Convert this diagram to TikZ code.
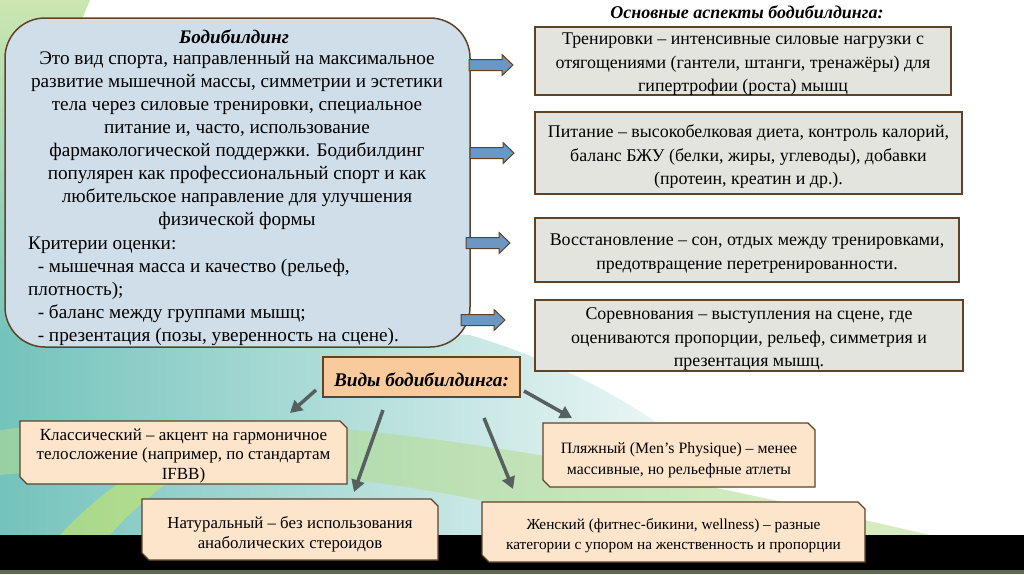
\documentclass[tikz,border=0pt]{standalone}
\usepackage{fontspec}
\setmainfont{Liberation Serif}
\usepackage{tikz}
\usetikzlibrary{positioning,arrows.meta}

\definecolor{mainblue}{HTML}{D0DEE9}
\definecolor{boxbrown}{HTML}{5E4327}
\definecolor{aspgray}{HTML}{E4E4DE}
\definecolor{typeorange}{HTML}{F9CB9C}
\definecolor{typepeach}{HTML}{FDE5CC}
\definecolor{arrowblue}{HTML}{6A97C3}
\definecolor{linkgray}{HTML}{56605F}
\definecolor{bgteal}{HTML}{74C3BC}
\definecolor{bggreen}{HTML}{B5DC8E}
\definecolor{stripgreen}{HTML}{5D6B53}

% outline with cut top-right and bottom-left corners around a node
\newcommand{\snipbox}[1]{%
  \filldraw[typeline] (#1.north west) -- ([xshift=-7pt]#1.north east) -- ([yshift=-7pt]#1.north east)
    -- (#1.south east) -- ([xshift=7pt]#1.south west) -- ([yshift=7pt]#1.south west) -- cycle;}

\tikzset{
  mainbox/.style={draw=boxbrown, line width=1.5pt, fill=mainblue, rounded corners=40pt,
    minimum width=465pt, minimum height=329pt},
  maintext/.style={align=center, inner sep=0pt, font=\fontsize{19.2}{23}\selectfont},
  asptitle/.style={inner sep=0pt, font=\fontsize{18}{22}\selectfont\bfseries\itshape},
  aspbox/.style={draw=boxbrown, line width=1.2pt, fill=aspgray},
  asptext/.style={align=center, inner sep=0pt, font=\fontsize{17.9}{23.5}\selectfont},
  blockarrow/.pic={\draw[draw=boxbrown, fill=arrowblue, line width=1pt]
    (-22,-5.5) -- (11,-5.5) -- (11,-10.5) -- (22,0) -- (11,10.5) -- (11,5.5) -- (-22,5.5) -- cycle;},
  typehead/.style={draw=boxbrown, line width=1.2pt, fill=typeorange,
    minimum width=197pt, minimum height=40pt},
  typebox/.style={inner sep=0pt, outer sep=0pt},
  typeline/.style={draw=boxbrown, fill=typepeach, line width=1.2pt, line join=miter},
  typetext/.style={align=center, inner sep=0pt},
  link/.style={draw=linkgray, line width=3.5pt, -{Triangle[length=12pt,width=13pt]}}
}

\begin{document}
\begin{tikzpicture}[x=1pt, y=-1pt]
  \useasboundingbox (0,0) rectangle (1024,574);
  % background
  \fill[white] (0,0) rectangle (1024,574);
  \shade[top color=bggreen!70, bottom color=bgteal] (0,0) -- (90,0) .. controls (40,120) .. (30,340) -- (0,340) -- cycle;
  \shade[left color=bgteal, right color=white] (0,330) -- (470,335) .. controls (620,380) and (720,460) .. (780,535) -- (0,535) -- cycle;
  \fill[bggreen, opacity=.55] (0,430) .. controls (250,400) and (520,440) .. (930,535) -- (620,535) .. controls (420,475) and (200,455) .. (0,475) -- cycle;
  \fill[bggreen!60!yellow, opacity=.5] (60,535) .. controls (120,470) and (200,430) .. (260,420) -- (280,430) .. controls (200,450) and (140,500) .. (110,535) -- cycle;
  \fill[black] (0,535) rectangle (1024,570);
  \fill[stripgreen] (0,570) rectangle (1024,574);

  % main block
  \node[mainbox] (body) at (237.5,182.5) {};
  \node[maintext, font=\fontsize{19.2}{23}\selectfont\bfseries\itshape] (bodytitle) at (234,37) {Бодибилдинг};
  \node[maintext] (bodytext) at (237,140) {Это вид спорта, направленный на максимальное\\
    развитие мышечной массы, симметрии и эстетики\\
    тела через силовые тренировки, специальное\\
    питание и, часто, использование\\
    фармакологической поддержки. Бодибилдинг\\
    популярен как профессиональный спорт и как\\
    любительское направление для улучшения\\
    физической формы};
  \node[maintext, align=left, anchor=west] (criteria) at (28,291) {Критерии оценки:\\
    \hspace*{0.5em}- мышечная масса и качество (рельеф,\\
    плотность);\\
    \hspace*{0.5em}- баланс между группами мышц;\\
    \hspace*{0.5em}- презентация (позы, уверенность на сцене).};

  % aspects
  \node[asptitle] (asptitle) at (747,12) {Основные аспекты бодибилдинга:};
  \node[aspbox, minimum width=416pt, minimum height=68pt] (training) at (743,61) {};
  \node[aspbox, minimum width=427pt, minimum height=82pt] (nutrition) at (748.5,153) {};
  \node[aspbox, minimum width=424pt, minimum height=64pt] (recovery) at (747,250) {};
  \node[aspbox, minimum width=428pt, minimum height=71pt] (contest) at (749,335.5) {};
  \node[asptext] (trainingtxt) at ([yshift=-3.5pt]training.center)
    {Тренировки – интенсивные силовые нагрузки с\\отягощениями (гантели, штанги, тренажёры) для\\гипертрофии (роста) мышц};
  \node[asptext] (nutritiontxt) at ([yshift=-3.5pt]nutrition.center)
    {Питание – высокобелковая диета, контроль калорий,\\баланс БЖУ (белки, жиры, углеводы), добавки\\(протеин, креатин и др.).};
  \node[asptext] (recoverytxt) at ([yshift=-3.5pt]recovery.center)
    {Восстановление – сон, отдых между тренировками,\\предотвращение перетренированности.};
  \node[asptext] (contesttxt) at ([yshift=-3.5pt]contest.center)
    {Соревнования – выступления на сцене, где\\оцениваются пропорции, рельеф, симметрия и\\презентация мышц.};

  \pic at (491,65) {blockarrow};
  \pic at (492,153) {blockarrow};
  \pic at (488,243) {blockarrow};
  \pic at (483,320) {blockarrow};

  % kinds
  \node[typehead] (kinds) at (421.5,377) {};
  \node[typetext, font=\fontsize{19.3}{23}\selectfont\bfseries\itshape] (kindstxt) at ([yshift=-3pt]kinds.center) {Виды бодибилдинга:};
  \node[typebox, minimum width=327pt, minimum height=63pt] (classic) at (183.5,452.5) {};
  \node[typebox, minimum width=296pt, minimum height=61pt] (natural) at (290,529.5) {};
  \node[typebox, minimum width=272pt, minimum height=64pt] (beach) at (679,455) {};
  \node[typebox, minimum width=383pt, minimum height=60pt] (women) at (673.5,532) {};
  \snipbox{classic}
  \snipbox{natural}
  \snipbox{beach}
  \snipbox{women}
  \node[typetext, font=\fontsize{17}{19.5}\selectfont] (classictxt) at ([yshift=-3pt]classic.center)
    {Классический – акцент на гармоничное\\телосложение (например, по стандартам\\IFBB)};
  \node[typetext, font=\fontsize{16.8}{20}\selectfont] (naturaltxt) at ([yshift=-4.5pt]natural.center)
    {Натуральный – без использования\\анаболических стероидов};
  \node[typetext, font=\fontsize{15.8}{21}\selectfont] (beachtxt) at ([yshift=-5pt]beach.center)
    {Пляжный (Men’s Physique) – менее\\массивные, но рельефные атлеты};
  \node[typetext, font=\fontsize{15.3}{20}\selectfont] (womentxt) at ([yshift=-3.5pt]women.center)
    {Женский (фитнес-бикини, wellness) – разные\\категории с упором на женственность и пропорции};

  \coordinate (toclassic) at (316,390);
  \coordinate (atclassic) at (290,413);
  \coordinate (tonatural) at (383,410);
  \coordinate (atnatural) at (354,492);
  \coordinate (towomen) at (484,418);
  \coordinate (atwomen) at (513,489);
  \coordinate (tobeach) at (524,391);
  \coordinate (atbeach) at (572,418);
  \draw[link] (toclassic) -- (atclassic);
  \draw[link] (tonatural) -- (atnatural);
  \draw[link] (towomen) -- (atwomen);
  \draw[link] (tobeach) -- (atbeach);
\end{tikzpicture}
\end{document}
